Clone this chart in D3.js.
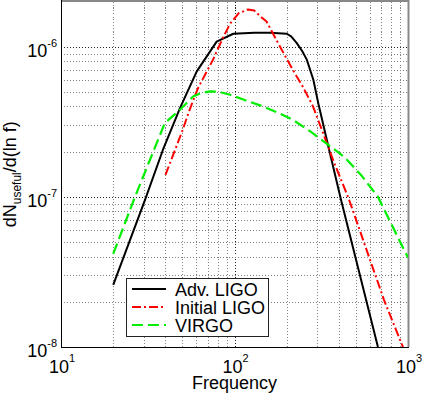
<!DOCTYPE html>
<html>
<head>
<meta charset="utf-8">
<script src="https://cdn.jsdelivr.net/npm/d3@7"></script>
<style>
    body { margin: 0; background: #fff; }
    text { font-family: "Liberation Sans", Arial, sans-serif; fill: #000; }
</style>
</head>
<body>
<script>
// values (frequency in Hz, dN_useful/d(ln f))
let advFreq = [20, 30.5, 38.7, 48.5, 60.6, 78.9, 98.4, 130, 160, 200, 212, 228, 245, 261, 285, 304, 351, 411, 671];
let advVal = [2.59e-8, 9.55e-8, 2.06e-7, 3.9e-7, 6.85e-7, 1.08e-6, 1.22e-6, 1.24e-6, 1.24e-6, 1.22e-6, 1.17e-6, 1.06e-6, 9.4e-7, 8.2e-7, 6.0e-7, 4.2e-7, 2.06e-7, 9.55e-8, 1.0e-8];

let initFreq = [40, 49.8, 55.4, 61.6, 75.2, 85.9, 94.2, 105.6, 119.6, 130, 142, 153, 183, 217, 248, 283.5, 315, 375, 451, 489, 596, 727, 935];
let initVal = [1.4e-7, 2.71e-7, 3.86e-7, 5.3e-7, 8.2e-7, 1.15e-6, 1.42e-6, 1.67e-6, 1.77e-6, 1.74e-6, 1.58e-6, 1.47e-6, 1.0e-6, 7.0e-7, 5.4e-7, 4.0e-7, 2.9e-7, 1.69e-7, 1.0e-7, 7.7e-8, 3.98e-8, 2.06e-8, 1.0e-8];

let virgoFreq = [20, 26.7, 39.7, 48.5, 57.7, 64, 72.2, 82, 94.2, 113.4, 146, 178, 217, 276, 428, 536, 671, 948, 1000];
let virgoVal = [4.17e-8, 1.0e-7, 3.11e-7, 3.8e-7, 4.66e-7, 4.9e-7, 5.04e-7, 5.0e-7, 4.79e-7, 4.43e-7, 4.0e-7, 3.63e-7, 3.26e-7, 2.71e-7, 1.85e-7, 1.4e-7, 1.0e-7, 4.45e-8, 3.95e-8];

let seriesNames = ['Adv. LIGO', 'Initial LIGO', 'VIRGO'];
let xMajor = [1e1, 1e2, 1e3];
let yMajor = [1e-8, 1e-7, 1e-6];

let w = 422;
let h = 394;
let box = { left: 61, right: 408, top: 1.5, bottom: 347 };

let svg = d3.select('body').append('svg')
    .attr('width', w)
    .attr('height', h);

let x = d3.scaleLog().domain([10, 1000]).range([box.left, box.right]);
let y = d3.scaleLog().domain([1e-8, 2e-6]).range([box.bottom, box.top]);

let isMajor = (d) => Math.abs(Math.log10(d) - Math.round(Math.log10(d))) < 1e-6;

// dotted grid, one line per log tick
let grid = svg.append('g').attr('shape-rendering', 'crispEdges');
grid.selectAll('line.gx').data(x.ticks().filter(d => d > 10 && d < 1000)).enter().append('line')
    .attr('x1', d => Math.round(x(d)) + 0.5)
    .attr('x2', d => Math.round(x(d)) + 0.5)
    .attr('y1', box.top)
    .attr('y2', box.bottom)
    .attr('stroke', d => isMajor(d) ? '#222' : '#808080')
    .attr('stroke-dasharray', '1,2');
grid.selectAll('line.gy').data(y.ticks().filter(d => d > 1e-8 && d < 1.9e-6)).enter().append('line')
    .attr('x1', box.left)
    .attr('x2', box.right)
    .attr('y1', d => Math.round(y(d)) + 0.5)
    .attr('y2', d => Math.round(y(d)) + 0.5)
    .attr('stroke', d => isMajor(d) ? '#222' : '#808080')
    .attr('stroke-dasharray', '1,2');

// axes box: left/bottom black, top/right grey like the original
svg.append('line').attr('x1', box.left).attr('x2', box.right).attr('y1', 1).attr('y2', 1)
    .attr('stroke', '#888').attr('stroke-width', 2);
svg.append('line').attr('x1', box.right + 0.5).attr('x2', box.right + 0.5).attr('y1', 0).attr('y2', box.bottom)
    .attr('stroke', '#888').attr('stroke-width', 2);
svg.append('line').attr('x1', box.left + 0.5).attr('x2', box.left + 0.5).attr('y1', 0).attr('y2', box.bottom + 0.5)
    .attr('stroke', '#000');
svg.append('line').attr('x1', box.left).attr('x2', box.right + 1).attr('y1', box.bottom + 0.5).attr('y2', box.bottom + 0.5)
    .attr('stroke', '#000');

// tick labels 10^n
let xl = svg.append('g').selectAll('text').data(xMajor).enter().append('text')
    .attr('x', d => x(d) + 1)
    .attr('y', 373)
    .attr('text-anchor', 'middle')
    .style('font-size', '18px');
xl.append('tspan').text('10');
xl.append('tspan').attr('dy', -11).style('font-size', '11px').text(d => Math.round(Math.log10(d)));

let yl = svg.append('g').selectAll('text').data(yMajor).enter().append('text')
    .attr('x', 57)
    .attr('y', d => y(d) + 10)
    .attr('text-anchor', 'end')
    .style('font-size', '18px');
yl.append('tspan').text('10');
yl.append('tspan').attr('dy', -10).style('font-size', '11px').text(d => '-' + Math.abs(Math.round(Math.log10(d))));

// axis titles
svg.append('text')
    .attr('x', (box.left + box.right) / 2)
    .attr('y', 389)
    .attr('text-anchor', 'middle')
    .style('font-size', '18px')
    .text('Frequency');

let ylab = svg.append('text')
    .attr('transform', 'translate(15.5,' + ((box.top + box.bottom) / 2) + ') rotate(-90)')
    .attr('text-anchor', 'middle')
    .style('font-size', '18px');
ylab.append('tspan').text('dN');
ylab.append('tspan').attr('dy', 5).style('font-size', '12px').text('useful');
ylab.append('tspan').attr('dy', -5).text('/d(ln f)');

// curves
svg.append('clipPath').attr('id', 'plotclip').append('rect')
    .attr('x', box.left).attr('y', box.top)
    .attr('width', box.right - box.left).attr('height', box.bottom - box.top);

let styles = [
    { color: '#000', dash: null, width: 2 },
    { color: '#ff0000', dash: '9,3,2,3', width: 2 },
    { color: '#00ee00', dash: '11,5', width: 2.2 }
];
let series = [
    advFreq.map((f, i) => [f, advVal[i]]),
    initFreq.map((f, i) => [f, initVal[i]]),
    virgoFreq.map((f, i) => [f, virgoVal[i]])
];

let line = d3.line()
    .x(d => x(d[0]))
    .y(d => y(d[1]));

svg.append('g').attr('clip-path', 'url(#plotclip)')
    .selectAll('path').data(series).enter().append('path')
    .attr('d', line)
    .attr('fill', 'none')
    .attr('stroke', (d, i) => styles[i].color)
    .attr('stroke-width', (d, i) => styles[i].width)
    .attr('stroke-linejoin', 'round')
    .attr('stroke-dasharray', (d, i) => styles[i].dash);

// legend
let lg = svg.append('g');
lg.append('rect')
    .attr('x', 126.5).attr('y', 278.5)
    .attr('width', 142).attr('height', 58)
    .attr('fill', '#fff')
    .attr('stroke', '#222');
let rows = lg.selectAll('g').data(seriesNames).enter().append('g')
    .attr('transform', (d, i) => 'translate(0,' + (289 + i * 18) + ')');
rows.append('line')
    .attr('x1', 132).attr('x2', 166)
    .attr('stroke', (d, i) => styles[i].color)
    .attr('stroke-width', (d, i) => styles[i].width)
    .attr('stroke-dasharray', (d, i) => styles[i].dash);
rows.append('text')
    .attr('x', 175)
    .attr('y', 6.5)
    .style('font-size', '18px')
    .text(d => d);
</script>
</body>
</html>
